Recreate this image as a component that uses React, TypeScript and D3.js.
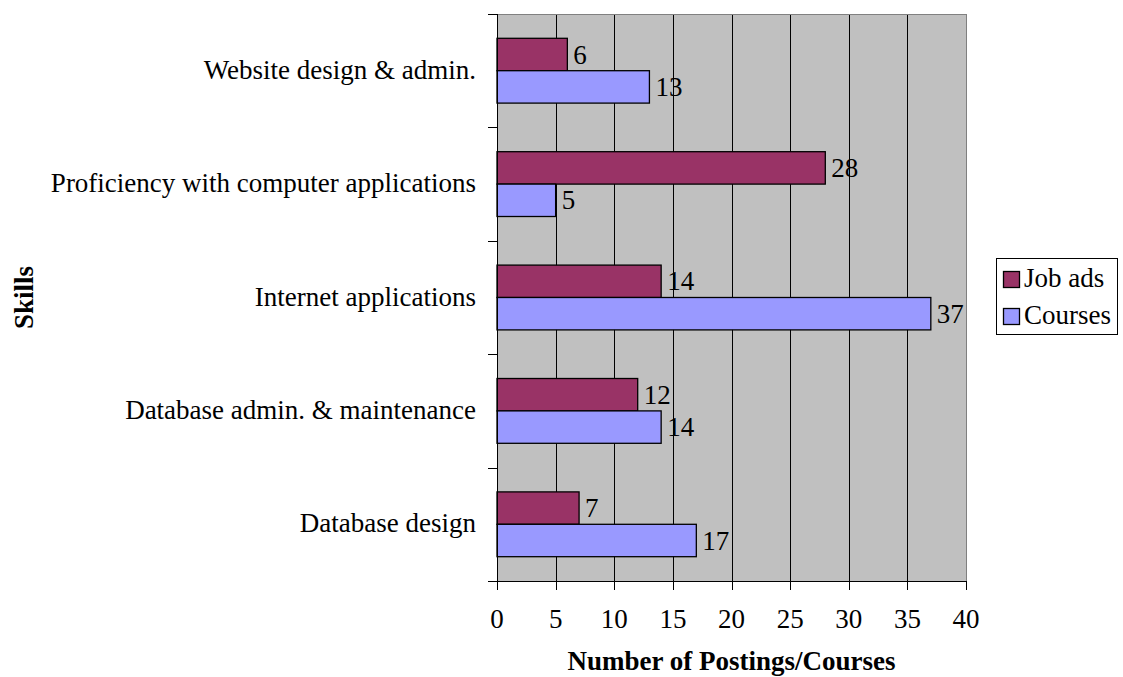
import React from "react";
import * as d3 from "d3";

const categories = [
  "Website design & admin.",
  "Proficiency with computer applications",
  "Internet applications",
  "Database admin. & maintenance",
  "Database design",
];
const seriesNames = ["Job ads", "Courses"];
const jobAds = [6, 28, 14, 12, 7];
const courses = [13, 5, 37, 14, 17];
const xTicks = [0, 5, 10, 15, 20, 25, 30, 35, 40];
const colors = ["#993366", "#9999FF"];

const W = 1123;
const H = 677;
const FONT = "'Liberation Serif', 'Times New Roman', serif";
const FS = 27;

export default function App() {
  const left = 497;
  const right = 966;
  const top = 14;
  const bottom = 581;

  const x = d3.scaleLinear().domain([0, 40]).range([left, right]);
  const y = d3.scaleBand<string>().domain(categories).range([top, bottom]).padding(0);
  const sub = d3
    .scaleBand<string>()
    .domain(seriesNames)
    .range([0, y.bandwidth()])
    .paddingInner(0)
    .paddingOuter(0.75);

  const seriesValues = [jobAds, courses];

  const boundaries = [top, ...categories.map((c) => (y(c) as number) + y.bandwidth())];

  return (
    <svg
      width={W}
      height={H}
      style={{ position: "absolute", left: 0, top: 0, background: "#fff" }}
      fontFamily={FONT}
    >
      {/* plot area */}
      <rect x={left} y={top} width={right - left} height={bottom - top} fill="#C0C0C0" />
      {/* vertical gridlines */}
      {xTicks.slice(1).map((t) => (
        <line
          key={"g" + t}
          x1={Math.round(x(t)) + 0.5}
          x2={Math.round(x(t)) + 0.5}
          y1={top}
          y2={bottom}
          stroke={t === 40 ? "#808080" : "#000"}
          strokeWidth={1}
        />
      ))}
      {/* top border */}
      <line x1={left} x2={right} y1={top + 0.5} y2={top + 0.5} stroke="#808080" strokeWidth={1} />

      {/* bars */}
      {seriesNames.map((s, si) =>
        categories.map((c, ci) => {
          const by = (y(c) as number) + (sub(s) as number);
          const v = seriesValues[si][ci];
          return (
            <g key={s + c}>
              <rect
                x={x(0)}
                y={by}
                width={x(v) - x(0)}
                height={sub.bandwidth()}
                fill={colors[si]}
                stroke="#000"
                strokeWidth={1.3}
              />
              <text
                x={x(v) + 6}
                y={by + sub.bandwidth() / 2 + 9}
                fontSize={FS}
                fill="#000"
              >
                {v}
              </text>
            </g>
          );
        })
      )}

      {/* axes */}
      <line x1={left + 0.5} x2={left + 0.5} y1={top} y2={bottom} stroke="#000" strokeWidth={1} />
      <line x1={left - 9} x2={right + 1} y1={bottom + 0.5} y2={bottom + 0.5} stroke="#000" strokeWidth={1} />
      {boundaries.map((b, i) => (
        <line key={"yt" + i} x1={left - 9} x2={left} y1={Math.round(b) + 0.5} y2={Math.round(b) + 0.5} stroke="#000" />
      ))}
      {xTicks.map((t) => (
        <g key={"xt" + t}>
          <line
            x1={Math.round(x(t)) + 0.5}
            x2={Math.round(x(t)) + 0.5}
            y1={bottom}
            y2={bottom + 9}
            stroke="#000"
          />
          <text x={x(t)} y={628} fontSize={FS} textAnchor="middle" fill="#000">
            {t}
          </text>
        </g>
      ))}

      {/* category labels */}
      {categories.map((c) => (
        <text
          key={"cl" + c}
          x={476}
          y={(y(c) as number) + y.bandwidth() / 2 + 8}
          fontSize={FS}
          textAnchor="end"
          fill="#000"
        >
          {c}
        </text>
      ))}

      {/* axis titles */}
      <text x={(left + right) / 2} y={670} fontSize={FS} fontWeight="bold" textAnchor="middle" fill="#000">
        Number of Postings/Courses
      </text>
      <text
        transform={`translate(33, ${(top + bottom) / 2}) rotate(-90)`}
        fontSize={FS}
        fontWeight="bold"
        textAnchor="middle"
        fill="#000"
      >
        Skills
      </text>

      {/* legend */}
      <rect x={996.5} y={258.5} width={121} height={76} fill="#fff" stroke="#000" strokeWidth={1} />
      {seriesNames.map((s, i) => (
        <g key={"lg" + s}>
          <rect x={1003.5} y={271.5 + i * 37} width={16} height={16} fill={colors[i]} stroke="#000" strokeWidth={1.3} />
          <text x={1024} y={287 + i * 37} fontSize={FS} fill="#000">
            {s}
          </text>
        </g>
      ))}
    </svg>
  );
}
